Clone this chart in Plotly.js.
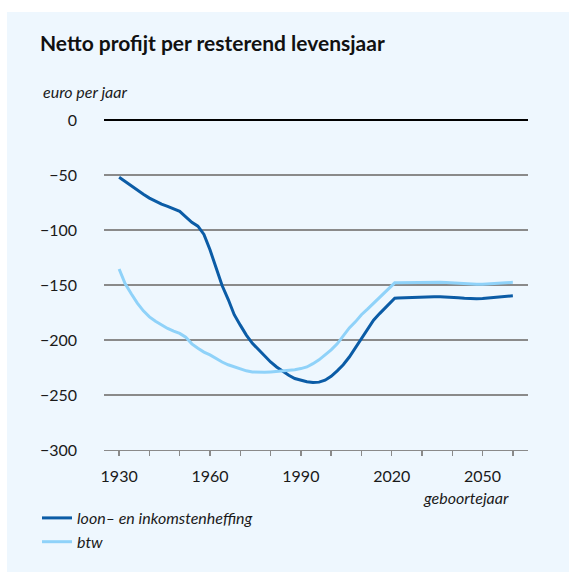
<!DOCTYPE html>
<html>
<head>
<meta charset="utf-8">
<script src="https://cdn.plot.ly/plotly-3.0.1.min.js"></script>
<style>
  html, body { margin:0; padding:0; background:#ffffff; }
  #panel { position:absolute; left:7px; top:12px; width:562px; height:560px; background:#eef7fe; }
  #chart { position:absolute; left:0; top:0; width:569px; height:572px; }
</style>
</head>
<body>
<div id="panel"></div>
<div id="chart"></div>
<script>
// Birth years
const years = [1930,1932,1934,1936,1938,1940,1942,1944,1946,1948,
               1950,1952,1954,1956,1958,1960,1962,1964,1966,1968,
               1970,1972,1974,1976,1978,1980,1982,1984,1986,1988,
               1990,1992,1994,1996,1998,2000,2002,2004,2006,2008,
               2010,2012,2014,2016,2018,2020,2021,2022,2024,2026,
               2028,2030,2032,2034,2036,2038,2040,2042,2044,2046,
               2048,2050,2052,2054,2056,2058,2060];

// loon- en inkomstenheffing (euro per jaar)
const loonIB = [-52,-56,-60,-64,-67.5,-71,-74,-76.5,-78.5,-80.5,
                -83,-88,-93,-96.5,-104,-118,-134.5,-150.5,-163,-177,
                -186.5,-195.5,-203,-209,-214.5,-220,-224.5,-228.5,-232,-235,
                -236.5,-238,-238.7,-238.3,-236.5,-233,-228,-222.5,-215.5,-207,
                -198.5,-190.5,-182,-176,-170.5,-165,-162,-161.8,-161.5,-161.2,
                -161,-160.8,-160.7,-160.6,-160.6,-160.7,-161,-161.5,-162,-162.5,
                -162.5,-162.2,-161.8,-161.2,-160.6,-160.2,-159.8];

// btw (euro per jaar)
const btw = [-135.5,-149,-158,-166.5,-173.5,-179,-183,-186.5,-189.5,-192,
             -194,-197.5,-203.5,-207.5,-211,-213.5,-217,-220,-222.5,-224.5,
             -226.5,-228,-229,-229.4,-229.4,-229,-228.6,-228.2,-227.7,-227,
             -226,-224.5,-221.5,-218,-213.5,-209,-203.5,-196.5,-189,-183.5,
             -177,-172,-166.7,-161.5,-156,-150.5,-148,-147.9,-147.8,-147.6,
             -147.5,-147.3,-147.2,-147.2,-147.5,-147.8,-148.2,-148.6,-149,-149.3,
             -149.4,-149.3,-149,-148.6,-148.2,-147.8,-147.6];

const seriesNames = ['loon\u2013 en inkomstenheffing', 'btw'];
const titleText = 'Netto profijt per resterend levensjaar';
const yUnit = 'euro per jaar';
const xUnit = 'geboortejaar';

const FONT = 'Lato, "Open Sans", sans-serif';
const TXT = '#1a1a1a';

const traces = [
  { x: years, y: loonIB, name: seriesNames[0], type: 'scatter', mode: 'lines',
    line: { color: '#0b5ca6', width: 3 }, hoverinfo: 'x+y' },
  { x: years, y: btw, name: seriesNames[1], type: 'scatter', mode: 'lines',
    line: { color: '#8fd2f9', width: 3 }, hoverinfo: 'x+y' }
];

const layout = {
  width: 569, height: 572,
  margin: { l: 104, r: 41, t: 120, b: 122, pad: 0, autoexpand: false },
  paper_bgcolor: 'rgba(0,0,0,0)',
  plot_bgcolor: 'rgba(0,0,0,0)',
  font: { family: FONT, size: 16, color: TXT },
  title: { text: titleText, font: { family: FONT, size: 21, color: '#111', weight: 'bold' },
           xref: 'container', yref: 'container', x: 40/569, xanchor: 'left',
           y: 1 - 44/572, yanchor: 'middle' },
  xaxis: {
    range: [1925, 2065], tick0: 1930, dtick: 30, ticks: 'outside', ticklen: 5,
    tickcolor: '#8a8a8a', tickwidth: 1.3,
    minor: { dtick: 10, tick0: 1930, ticks: 'outside', ticklen: 5, tickcolor: '#8a8a8a', tickwidth: 1.3, showgrid: false },
    showgrid: false, zeroline: false, showline: true, linecolor: '#8a8a8a', linewidth: 1.3,
    tickfont: { family: FONT, size: 16, color: TXT }, ticklabelstandoff: 6, fixedrange: true
  },
  yaxis: {
    range: [-300, 0], tick0: 0, dtick: 50, ticks: '', showgrid: true,
    gridcolor: '#8a8a8a', gridwidth: 1.3,
    zeroline: true, zerolinecolor: '#000000', zerolinewidth: 2.5,
    showline: false, tickfont: { family: FONT, size: 16, color: TXT },
    ticklabelstandoff: 26, fixedrange: true
  },
  showlegend: true,
  legend: { xref: 'container', yref: 'container', x: 37/569, xanchor: 'left', y: 1 - 501/572, yanchor: 'top',
            orientation: 'v', bgcolor: 'rgba(0,0,0,0)', tracegroupgap: 0, itemwidth: 30,
            font: { family: FONT, size: 16, color: TXT, style: 'italic' } },
  annotations: [
    { text: '<i>' + yUnit + '</i>', xref: 'paper', yref: 'paper', x: (41-104)/424, y: 1 + (120-91)/330,
      xanchor: 'left', yanchor: 'middle', showarrow: false, font: { family: FONT, size: 16, color: TXT } },
    { text: '<i>' + xUnit + '</i>', xref: 'paper', yref: 'paper', x: (511-104)/424, y: -(497-450)/330,
      xanchor: 'right', yanchor: 'middle', showarrow: false, font: { family: FONT, size: 16, color: TXT } }
  ]
};

Plotly.newPlot('chart', traces, layout, { displayModeBar: false, staticPlot: true });
</script>
</body>
</html>
